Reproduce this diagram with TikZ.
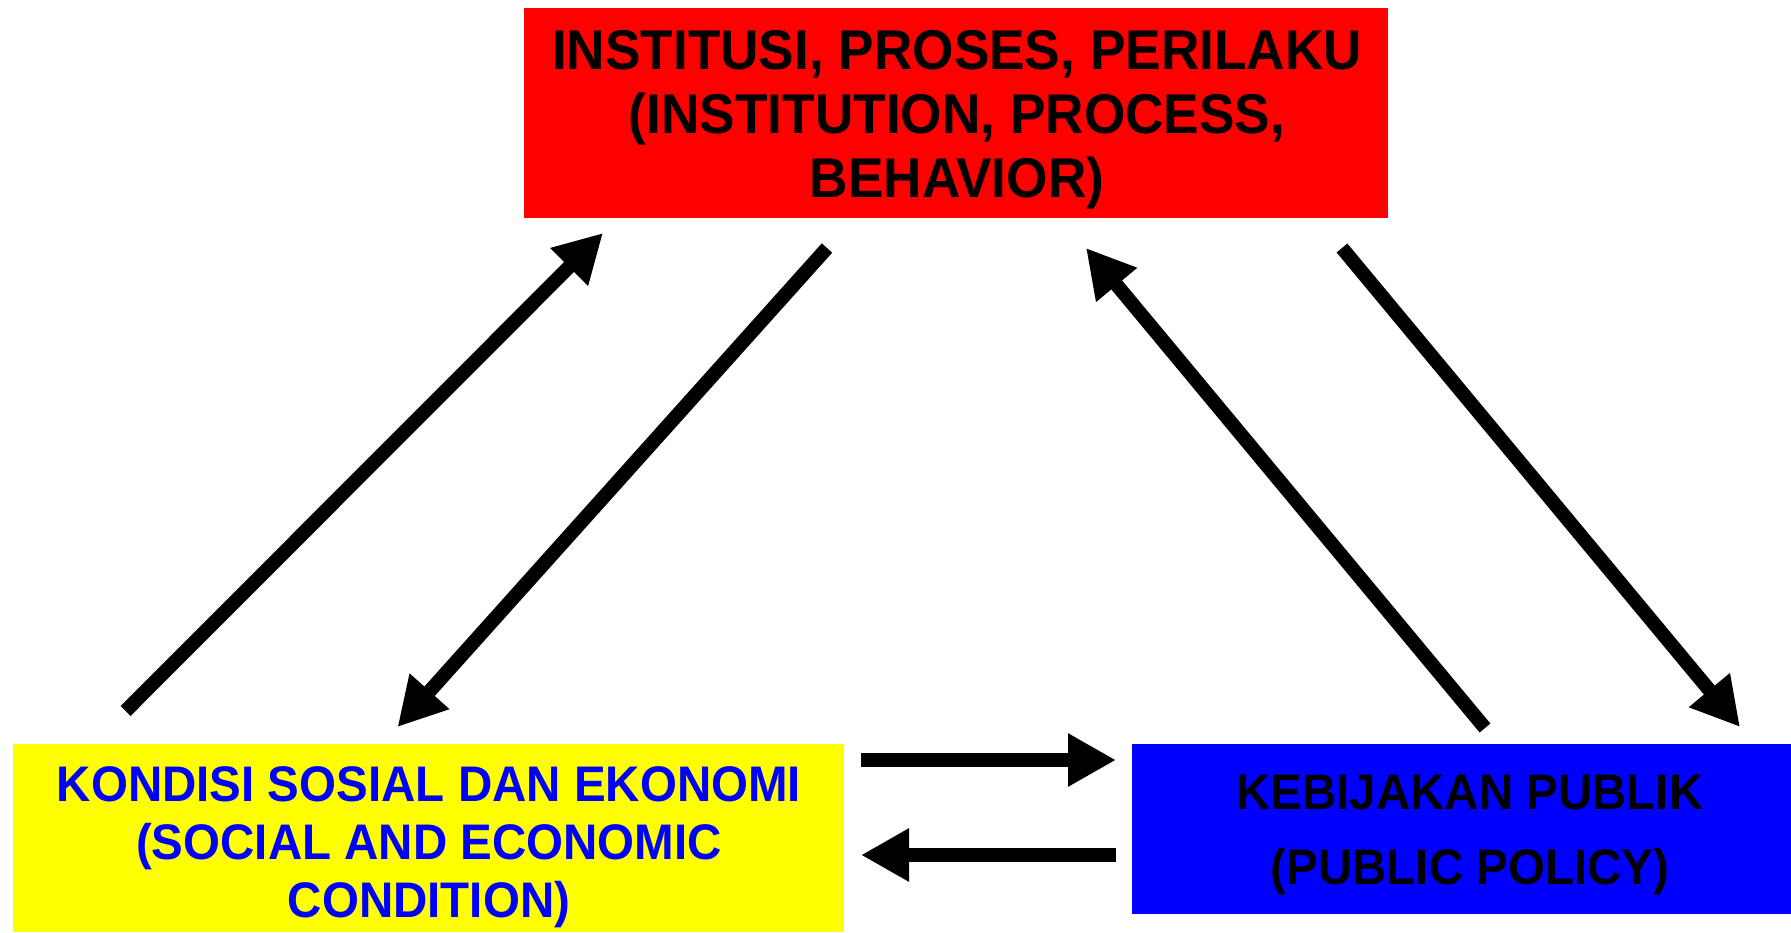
\documentclass[tikz,border=0pt]{standalone}
\usepackage{fontspec}
\setmainfont{Liberation Sans}[FakeStretch=0.95]
\usetikzlibrary{arrows.meta}
\definecolor{boxred}{RGB}{255,0,0}
\definecolor{boxyellow}{RGB}{255,255,0}
\definecolor{boxblue}{RGB}{0,0,255}
\begin{document}
\begin{tikzpicture}[x=1pt,y=-1pt,
  box/.style={draw=none, inner sep=0pt, outer sep=0pt},
  lbl/.style={align=center, inner sep=0pt, outer sep=0pt},
  conn/.style={line width=14pt, -{Triangle[length=48pt,width=50pt]}}]
\useasboundingbox (0,0) rectangle (1791,932);
\fill[white] (0,0) rectangle (1791,932);
% boxes
\node[box, fill=boxred, minimum width=864pt, minimum height=210pt] (red) at (956,113) {};
\node[box, fill=boxyellow, minimum width=831.4pt, minimum height=188pt] (yellow) at (428.3,838) {};
\node[box, fill=boxblue, minimum width=659pt, minimum height=170pt] (blue) at (1461.5,829) {};
% texts
\node[lbl, font=\fontsize{56}{64}\selectfont\bfseries, text=black] (redtext) at (957,120)
  {INSTITUSI, PROSES, PERILAKU\\(INSTITUTION, PROCESS,\\BEHAVIOR)};
\node[lbl, font=\fontsize{50}{58}\selectfont\bfseries, text=boxblue] (yellowtext) at (429,847)
  {KONDISI SOSIAL DAN EKONOMI\\(SOCIAL AND ECONOMIC\\CONDITION)};
\node[lbl, font=\fontsize{50}{75}\selectfont\bfseries, text=black] (bluetext) at (1470,835)
  {KEBIJAKAN PUBLIK\\(PUBLIC POLICY)};
% connector ends
\coordinate (ysA) at (125.6,711);
\coordinate (reA) at (603,233);
\coordinate (rsB) at (827,248);
\coordinate (yeB) at (397.5,727);
\coordinate (bsC) at (1485,728);
\coordinate (reC) at (1086,248);
\coordinate (rsD) at (1342,248);
\coordinate (beD) at (1740,727);
\coordinate (ysE) at (861,760);
\coordinate (beE) at (1116,760);
\coordinate (bsF) at (1116,855);
\coordinate (yeF) at (861,855);
% connectors
\draw[conn] (ysA) -- (reA);
\draw[conn] (rsB) -- (yeB);
\draw[conn] (bsC) -- (reC);
\draw[conn] (rsD) -- (beD);
\draw[conn] (ysE) -- (beE);
\draw[conn] (bsF) -- (yeF);
\end{tikzpicture}
\end{document}
